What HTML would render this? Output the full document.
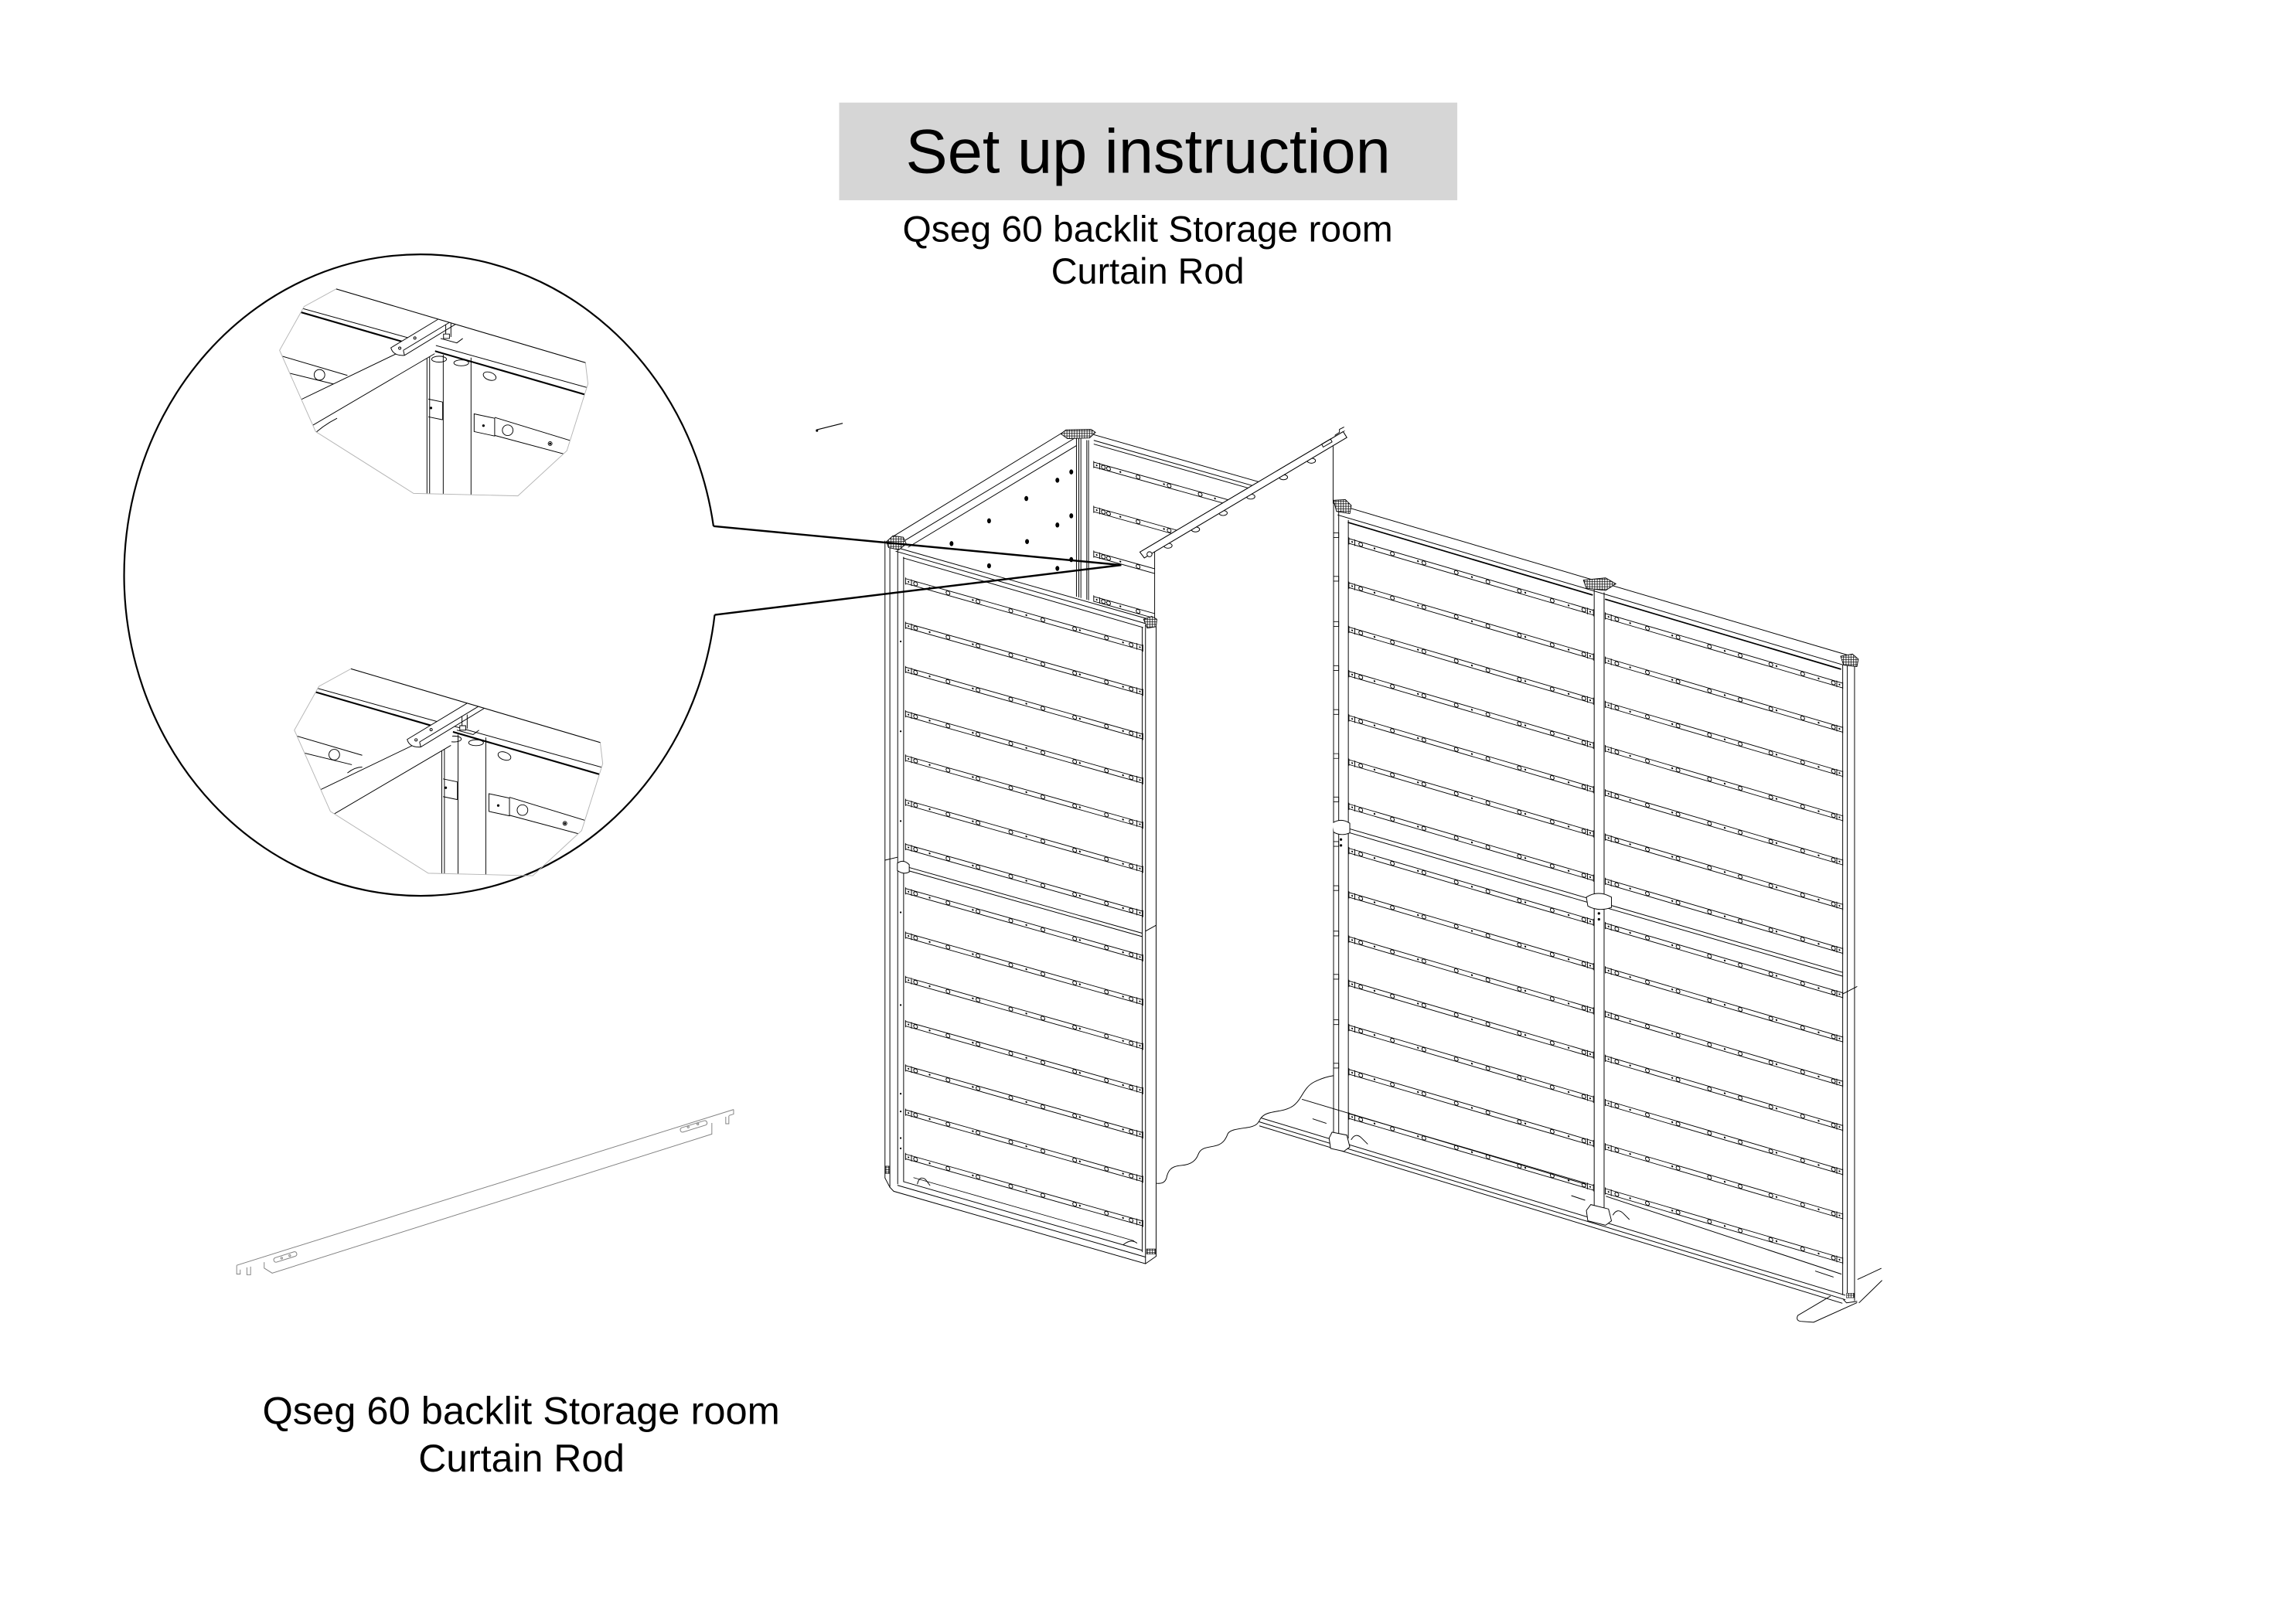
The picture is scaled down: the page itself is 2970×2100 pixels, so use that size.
<!DOCTYPE html>
<html>
<head>
<meta charset="utf-8">
<style>
html,body{margin:0;padding:0;background:#fff;}
svg{display:block;}
text{font-family:"Liberation Sans",Arial,Helvetica,sans-serif;fill:#000;}
</style>
</head>
<body>
<svg width="2970" height="2100" viewBox="0 0 1553 1098.1" preserveAspectRatio="none" xmlns="http://www.w3.org/2000/svg">
<defs>
  <pattern id="hatch" width="1.7" height="1.7" patternUnits="userSpaceOnUse">
    <rect width="1.7" height="1.7" fill="#fff"/>
    <path d="M0,0.85H1.7M0.85,0V1.7" stroke="#000" stroke-width="0.4"/>
  </pattern>

  <!-- front panel slat -->
  <g id="fs">
    <path d="M0,0H160.5M0,3.2H160.5M0,-0.6V3.8M4,-0.4V3.6M156.5,-0.4V3.6M160.5,-0.6V3.8"/>
    <g fill="#fff">
      <circle cx="6.8" cy="1.6" r="1.3"/><circle cx="28.7" cy="1.6" r="1.3"/><circle cx="49" cy="1.6" r="1.3"/>
      <circle cx="71.2" cy="1.6" r="1.3"/><circle cx="92.9" cy="1.6" r="1.3"/><circle cx="114.4" cy="1.6" r="1.3"/>
      <circle cx="135.9" cy="1.6" r="1.3"/><circle cx="152.6" cy="1.6" r="1.3"/>
    </g>
    <g fill="#000" stroke="none">
      <circle cx="2" cy="1.6" r="0.55"/><circle cx="16.3" cy="1.6" r="0.6"/><circle cx="45.5" cy="1.6" r="0.6"/>
      <circle cx="81.7" cy="1.6" r="0.6"/><circle cx="117.9" cy="1.6" r="0.6"/><circle cx="147.1" cy="1.6" r="0.6"/>
      <circle cx="158.5" cy="1.6" r="0.55"/>
    </g>
  </g>
  <!-- right wall left section slat -->
  <g id="ws1">
    <path d="M0,0H165.4M0,3.2H165.4M0,-0.6V3.8M4,-0.4V3.6M161.4,-0.4V3.6M165.4,-0.6V3.8"/>
    <g fill="#fff">
      <circle cx="8" cy="1.6" r="1.3"/><circle cx="29.4" cy="1.6" r="1.3"/><circle cx="50.7" cy="1.6" r="1.3"/>
      <circle cx="72.6" cy="1.6" r="1.3"/><circle cx="94" cy="1.6" r="1.3"/><circle cx="115.3" cy="1.6" r="1.3"/>
      <circle cx="137.5" cy="1.6" r="1.3"/><circle cx="158.9" cy="1.6" r="1.3"/>
    </g>
    <g fill="#000" stroke="none">
      <circle cx="2.2" cy="1.6" r="0.55"/><circle cx="17.3" cy="1.6" r="0.6"/><circle cx="46.7" cy="1.6" r="0.6"/>
      <circle cx="83.2" cy="1.6" r="0.6"/><circle cx="119.3" cy="1.6" r="0.6"/><circle cx="148.6" cy="1.6" r="0.6"/>
      <circle cx="163.2" cy="1.6" r="0.55"/>
    </g>
  </g>
  <!-- right wall right section slat -->
  <g id="ws2">
    <path d="M0,0H160.6M0,3.2H160.6M0,-0.6V3.8M4,-0.4V3.6M156.6,-0.4V3.6M160.6,-0.6V3.8"/>
    <g fill="#fff">
      <circle cx="7.8" cy="1.6" r="1.3"/><circle cx="28.5" cy="1.6" r="1.3"/><circle cx="49.2" cy="1.6" r="1.3"/>
      <circle cx="70.5" cy="1.6" r="1.3"/><circle cx="91.3" cy="1.6" r="1.3"/><circle cx="112" cy="1.6" r="1.3"/>
      <circle cx="133.5" cy="1.6" r="1.3"/><circle cx="154.3" cy="1.6" r="1.3"/>
    </g>
    <g fill="#000" stroke="none">
      <circle cx="2.2" cy="1.6" r="0.55"/><circle cx="16.8" cy="1.6" r="0.6"/><circle cx="45.3" cy="1.6" r="0.6"/>
      <circle cx="80.8" cy="1.6" r="0.6"/><circle cx="115.8" cy="1.6" r="0.6"/><circle cx="144.3" cy="1.6" r="0.6"/>
      <circle cx="158.4" cy="1.6" r="0.55"/>
    </g>
  </g>
  <!-- back wall slat -->
  <g id="bs">
    <path d="M0,0H112M0,3.2H112M0,-0.6V3.8M4,-0.4V3.6"/>
    <g fill="#fff">
      <circle cx="6.5" cy="1.6" r="1.3"/><circle cx="10" cy="1.6" r="1.3"/><circle cx="30" cy="1.6" r="1.3"/>
      <circle cx="51" cy="1.6" r="1.3"/><circle cx="72" cy="1.6" r="1.3"/><circle cx="93" cy="1.6" r="1.3"/>
    </g>
    <g fill="#000" stroke="none">
      <circle cx="2" cy="1.6" r="0.55"/><circle cx="18" cy="1.6" r="0.6"/><circle cx="47.5" cy="1.6" r="0.6"/>
      <circle cx="82" cy="1.6" r="0.6"/>
    </g>
  </g>

  <!-- inset -->
  <clipPath id="cpU">
    <polygon points="227.4,195.5 396,245.4 397.7,259.7 383.4,305 350.3,335.5 279.7,333.8 213.5,292 189.1,237 205.7,207.4"/>
  </clipPath>
  <g id="ib" stroke="#000" stroke-width="0.5" fill="none">
    <path d="M195,206 L400,263"/>
    <path d="M195,208.8 L400,268.2" stroke-width="1.1"/>
    <path d="M185,239.3 L235,254"/>
    <path d="M188,250.6 L228,260.4"/>
    <circle cx="216.1" cy="253.6" r="3.6" fill="#fff"/>
    <path d="M288.8,238V340M290.6,240V340M299.8,240V340M318.6,242V340"/>
    <ellipse cx="297" cy="243" rx="5" ry="2"/>
    <ellipse cx="312" cy="245.5" rx="5" ry="2"/>
    <ellipse cx="331.2" cy="254.5" rx="4.5" ry="2.6" transform="rotate(20 331.2 254.5)"/>
    <path d="M320.7,280 L320.7,292 L334.6,295 L334.6,283 Z"/>
    <path d="M334.6,282.4 L392,300 M334.6,294.6 L392,310"/>
    <circle cx="343.4" cy="291.1" r="3.6" fill="#fff"/>
    <circle cx="372.1" cy="300.1" r="1.3"/>
    <circle cx="372.1" cy="300.1" r="0.5" fill="#000"/>
    <circle cx="327" cy="288" r="0.6" fill="#000"/>
    <path d="M289.7,270 L299.4,272 M289.7,282 L299.4,284 M299.4,272 V284"/>
    <circle cx="291.5" cy="276" r="0.6" fill="#000"/>
    <path d="M203,290 Q210,281 222,276 M206,293 Q214,284 225,279 M210,296 Q218,288 228,283"/>
    <path d="M225,266 Q230,262 235,262"/>
  </g>
  <g id="ir" stroke="#000" stroke-width="0.5">
    <path d="M296,225.9 L175,284.1 L175,309.2 L294,239.3 Z" fill="#fff" stroke="none"/>
    <path d="M296,225.9 L175,284.1 M294,239.3 L175,309.2" fill="none"/>
    <path d="M264.4,235.3 L307.1,209.5 Q313,208.5 315.5,211.2 L316.3,214.4 L273.6,240.4 Q266,241 264.4,235.3 Z" fill="#fff"/>
    <path d="M272.8,237 L315.5,211.2 M272.8,237 L273.6,240.4" fill="none"/>
    <circle cx="270.4" cy="235.6" r="0.8" fill="none"/>
    <circle cx="280.6" cy="228.7" r="0.8" fill="none"/>
    <path d="M301.5,219.6 V229 M305,218.5 V228 M298,229 L309,232 L313,229" fill="none"/>
    <path d="M300,226 h4 v3 h-4 z" fill="#fff"/>
  </g>
  <g id="ip">
    <polygon points="227.4,195.5 396,245.4 397.7,259.7 383.4,305 350.3,335.5 279.7,333.8 213.5,292 189.1,237 205.7,207.4" fill="none" stroke="#b5b5b5" stroke-width="0.5"/>
    <line x1="227.4" y1="195.5" x2="396" y2="245.4" stroke="#000" stroke-width="0.55"/>
  </g>
</defs>

<rect x="0" y="0" width="1553" height="1098.1" fill="#fff"/>

<!-- Title -->
<rect x="567.6" y="69.4" width="418.1" height="66.1" fill="#d6d6d6"/>
<text x="612.6" y="116.9" font-size="42" textLength="328" lengthAdjust="spacingAndGlyphs">Set up instruction</text>
<text x="610.5" y="163.4" font-size="24.5" textLength="331.6" lengthAdjust="spacingAndGlyphs">Qseg 60 backlit Storage room</text>
<text x="711" y="191.9" font-size="24.5" textLength="130.6" lengthAdjust="spacingAndGlyphs">Curtain Rod</text>

<!-- Detail ellipse -->
<path d="M482.6,356 A200.5,217 0 1 0 483.4,416" fill="none" stroke="#000" stroke-width="1.15"/>

<!-- upper inset -->
<g clip-path="url(#cpU)"><use href="#ib"/><use href="#ir"/></g>
<use href="#ip"/>
<!-- lower inset -->
<g transform="translate(10,257)">
  <g clip-path="url(#cpU)"><use href="#ib"/><use href="#ir" transform="translate(1,8)"/></g>
  <use href="#ip"/>
</g>

<!-- small loose item -->
<path d="M552,290.9 L570,286.4" stroke="#000" stroke-width="0.6"/>
<circle cx="552.6" cy="291.4" r="0.8" fill="#000"/>

<!-- MAIN DRAWING -->
<g stroke="#000" stroke-width="0.5" fill="none" stroke-linecap="round">

  <!-- back wall of storage box -->
  <use href="#bs" transform="matrix(1,0.28,0,1,739.8,312.7)"/>
  <use href="#bs" transform="matrix(1,0.28,0,1,739.8,343)"/>
  <use href="#bs" transform="matrix(1,0.28,0,1,739.8,373.3)"/>
  <use href="#bs" transform="matrix(1,0.28,0,1,739.8,403.6)"/>
  <path d="M736,293 L851.4,326 M740,298 L848,328.8 M740,300.5 L844,330.1"/>
  <path d="M728.1,296V407 M729.7,297V407 M731.1,297V407 M735.1,298V408 M736.3,298V408"/>

  <!-- side panel (inner face) -->
  <path d="M604,363 L719,292.5 M609,367.5 L726,297 M613,371 L728.1,301.5"/>
  <g fill="#000" stroke="none">
    <ellipse cx="724.6" cy="319.3" rx="1.3" ry="1.7"/><ellipse cx="715.2" cy="324.9" rx="1.3" ry="1.7"/>
    <ellipse cx="694.2" cy="337.3" rx="1.3" ry="1.7"/><ellipse cx="669" cy="352.4" rx="1.3" ry="1.7"/>
    <ellipse cx="643.6" cy="367.8" rx="1.3" ry="1.7"/><ellipse cx="724.6" cy="349" rx="1.3" ry="1.7"/>
    <ellipse cx="715.2" cy="355.2" rx="1.3" ry="1.7"/><ellipse cx="694.7" cy="366.4" rx="1.3" ry="1.7"/>
    <ellipse cx="669" cy="382.8" rx="1.3" ry="1.7"/><ellipse cx="715.2" cy="384.6" rx="1.3" ry="1.7"/>
    <ellipse cx="724.6" cy="378.6" rx="1.3" ry="1.7"/>
  </g>

  <!-- RIGHT WALL -->
  <use href="#ws1" transform="matrix(1,0.2935,0,1,912.4,364.4)"/>
  <use href="#ws1" transform="matrix(1,0.2935,0,1,912.4,394.33)"/>
  <use href="#ws1" transform="matrix(1,0.2935,0,1,912.4,424.26)"/>
  <use href="#ws1" transform="matrix(1,0.2935,0,1,912.4,454.19)"/>
  <use href="#ws1" transform="matrix(1,0.2935,0,1,912.4,484.12)"/>
  <use href="#ws1" transform="matrix(1,0.2935,0,1,912.4,514.05)"/>
  <use href="#ws1" transform="matrix(1,0.2935,0,1,912.4,543.98)"/>
  <use href="#ws1" transform="matrix(1,0.2935,0,1,912.4,573.91)"/>
  <use href="#ws1" transform="matrix(1,0.2935,0,1,912.4,603.84)"/>
  <use href="#ws1" transform="matrix(1,0.2935,0,1,912.4,633.77)"/>
  <use href="#ws1" transform="matrix(1,0.2935,0,1,912.4,663.7)"/>
  <use href="#ws1" transform="matrix(1,0.2935,0,1,912.4,693.63)"/>
  <use href="#ws1" transform="matrix(1,0.2935,0,1,912.4,723.56)"/>
  <use href="#ws1" transform="matrix(1,0.2935,0,1,912.4,753.49)"/>

  <use href="#ws2" transform="matrix(1,0.2935,0,1,1085.8,415.1)"/>
  <use href="#ws2" transform="matrix(1,0.2935,0,1,1085.8,445.03)"/>
  <use href="#ws2" transform="matrix(1,0.2935,0,1,1085.8,474.96)"/>
  <use href="#ws2" transform="matrix(1,0.2935,0,1,1085.8,504.89)"/>
  <use href="#ws2" transform="matrix(1,0.2935,0,1,1085.8,534.82)"/>
  <use href="#ws2" transform="matrix(1,0.2935,0,1,1085.8,564.75)"/>
  <use href="#ws2" transform="matrix(1,0.2935,0,1,1085.8,594.68)"/>
  <use href="#ws2" transform="matrix(1,0.2935,0,1,1085.8,624.61)"/>
  <use href="#ws2" transform="matrix(1,0.2935,0,1,1085.8,654.54)"/>
  <use href="#ws2" transform="matrix(1,0.2935,0,1,1085.8,684.47)"/>
  <use href="#ws2" transform="matrix(1,0.2935,0,1,1085.8,714.4)"/>
  <use href="#ws2" transform="matrix(1,0.2935,0,1,1085.8,744.33)"/>
  <use href="#ws2" transform="matrix(1,0.2935,0,1,1085.8,774.26)"/>
  <use href="#ws2" transform="matrix(1,0.2935,0,1,1085.8,804.19)"/>

  <!-- top rail -->
  <path d="M902,340.5 L1254.4,444.6 M904.9,348.4 L1246.4,449.8"/>
  <path d="M912,353.5 L1077,402.5 M1086,405.5 L1245,452.7" stroke-width="0.9"/>
  <!-- posts -->
  <path d="M902,340.5V772 M905.5,345V772 M912,352V770"/>
  <path d="M1078.3,399V821 M1085,401V823"/>
  <path d="M1246.4,450V876 M1249.5,449V878 M1254.4,444.6V880"/>
  <path d="M1246.4,672.5 L1256,667.5"/>
  <!-- left post marks -->
  <g stroke-width="0.45">
    <path d="M902,360.5h3.5v3.2h-3.5 M902,390h3.5v3.2h-3.5 M902,420.6h3.5v3.2h-3.5 M902,450.4h3.5v3.2h-3.5 M902,480.1h3.5v3.2h-3.5 M902,509.9h3.5v3.2h-3.5 M902,539.3h3.5v3.2h-3.5 M902,569.4h3.5v3.2h-3.5 M902,599.3h3.5v3.2h-3.5 M902,630h3.5v3.2h-3.5 M902,659.3h3.5v3.2h-3.5 M902,690h3.5v3.2h-3.5 M902,719.4h3.5v3.2h-3.5"/>
  </g>
  <!-- joints -->
  <path d="M912,560.5 L1078.3,609 M912,563.2 L1078.3,611.8 M1085,611.2 L1246.4,657.9 M1085,613.8 L1246.4,660.5"/>
  <path d="M901,557 Q907,553 913,557 L913,563.5 Q907,566 902,563 Z" fill="#fff"/>
  <path d="M1073,607 Q1081,602 1090,607 L1090,614 Q1081,617 1074,613 Z" fill="#fff"/>
  <circle cx="907" cy="568" r="0.6" fill="#000"/><circle cx="907" cy="572" r="0.6" fill="#000"/>
  <circle cx="1081.5" cy="618" r="0.6" fill="#000"/><circle cx="1081.5" cy="622" r="0.6" fill="#000"/>
  <!-- base rail -->
  <path d="M851,755.8 L1248,876.3 M851,758.8 L1248,879.3 M852,761.8 L1246,881.7"/>
  <path d="M880.8,743.8 L1072.9,801.4 M1086.4,809.4 L1245.4,862"/>
  <!-- post bottom brackets -->
  <path d="M899,770 L901,766 L911,768 L913,776 L909,779 L900,777 Z" fill="#fff"/>
  <path d="M1073,819 L1076,815 L1088,818 L1090,826 L1086,829 L1074,826 Z" fill="#fff"/>
  <path d="M914,771 Q917,766 921,770 L925,774 M1091,822 Q1094,817 1098,821 L1102,825"/>
  <path d="M888,757 L897,760 M1063,809 L1072,812 M1228,860 L1240,864"/>
  <!-- foot -->
  <path d="M1238,877 L1216,890 Q1214.5,893.5 1218,894 L1226.7,894.6 L1256,881.4"/>
  <path d="M1256.6,865.6 L1272.4,858.2 M1257.5,881.4 L1272.9,866.4"/>
  <path d="M1247,879.4 L1249,881.5 L1256,880.5 M1249,878 L1254.4,876"/>
  <rect x="1249" y="875" width="5" height="3" fill="url(#hatch)" stroke-width="0.3"/>

  <!-- CURTAIN -->
  <path d="M782,800.6 C786,801 788,800 789,797 C790,792 792,789 799,788.5 C806,788 809,785 810.5,781 C812,777 815,776.5 821,775.5 C827,774.5 829,771 830.5,767 C832,764.5 836,764 843,763 C850,762 851,760 852.5,757 C855,753 860,752.5 866,751.5 C874,750 877,747 880,742 C883,737 885,734 889,732 C893,730 897,728.5 901.7,727.8 L901.7,302 L781,373.4 Z" fill="#fff" stroke="none"/>
  <path d="M782,800.6 C786,801 788,800 789,797 C790,792 792,789 799,788.5 C806,788 809,785 810.5,781 C812,777 815,776.5 821,775.5 C827,774.5 829,771 830.5,767 C832,764.5 836,764 843,763 C850,762 851,760 852.5,757 C855,753 860,752.5 866,751.5 C874,750 877,747 880,742 C883,737 885,734 889,732 C893,730 897,728.5 901.7,727.8"/>
  <path d="M781,373.4 V800.6 M901.7,302 V340.5"/>

  <!-- ROD -->
  <g fill="#fff">
    <ellipse cx="790" cy="369.2" rx="2.8" ry="1.7"/>
    <ellipse cx="808.6" cy="358.2" rx="2.8" ry="1.7"/>
    <ellipse cx="827.3" cy="347.1" rx="2.8" ry="1.7"/>
    <ellipse cx="846" cy="336" rx="2.8" ry="1.7"/>
    <ellipse cx="868.1" cy="322.9" rx="2.8" ry="1.7"/>
    <ellipse cx="887" cy="311.7" rx="2.8" ry="1.7"/>
  </g>
  <path d="M771,373.5 L908.5,292 L911,296 L774,377.5 Z" fill="#fff" stroke-width="0.55"/>
  <path d="M772.5,372.6 L909.5,291.5" stroke-width="0.35"/>
  <circle cx="777.5" cy="375" r="1.7" fill="#fff"/>
  <path d="M894,300.5 L900,297 L901,299 L895,302.5 Z M903,294.5 L906,292.5 V290.5 L909,289"/>

  <!-- FRONT PANEL -->
  <path d="M598.6,366 L604.5,367.5 L782,419.5 L782,850 L774.8,855 L604.5,806 L598.6,797 Z" fill="#fff" stroke="none"/>
  <use href="#fs" transform="matrix(1,0.2826,0,1,612.5,391.5)"/>
  <use href="#fs" transform="matrix(1,0.2826,0,1,612.5,421.45)"/>
  <use href="#fs" transform="matrix(1,0.2826,0,1,612.5,451.4)"/>
  <use href="#fs" transform="matrix(1,0.2826,0,1,612.5,481.35)"/>
  <use href="#fs" transform="matrix(1,0.2826,0,1,612.5,511.3)"/>
  <use href="#fs" transform="matrix(1,0.2826,0,1,612.5,541.25)"/>
  <use href="#fs" transform="matrix(1,0.2826,0,1,612.5,571.2)"/>
  <use href="#fs" transform="matrix(1,0.2826,0,1,612.5,601.15)"/>
  <use href="#fs" transform="matrix(1,0.2826,0,1,612.5,631.1)"/>
  <use href="#fs" transform="matrix(1,0.2826,0,1,612.5,661.05)"/>
  <use href="#fs" transform="matrix(1,0.2826,0,1,612.5,691)"/>
  <use href="#fs" transform="matrix(1,0.2826,0,1,612.5,720.95)"/>
  <use href="#fs" transform="matrix(1,0.2826,0,1,612.5,750.9)"/>
  <use href="#fs" transform="matrix(1,0.2826,0,1,612.5,780.85)"/>
  <!-- top rail -->
  <path d="M603,369.5 L779,419.5 M606,373 L777,422.5 M611,377.5 L773,424.5"/>
  <!-- posts -->
  <path d="M598.6,366V797 M601.9,369V803.3 M607.2,372V801 M611.2,377V799.5"/>
  <path d="M772.6,424.5V847 M774.8,423V855 M782,419.5V850"/>
  <!-- bottom rail -->
  <path d="M598.6,797 L601.9,803.3 L604.5,806 L774.8,855 L782,850"/>
  <path d="M607.2,802 L774.8,850.5 M611.2,799.5 L772.6,846"/>
  <path d="M618,796.8 L767,839.5" stroke-width="0.4"/>
  <path d="M620.5,801 Q622,795 626,798 L629,802 M760,842 Q765,838 769,841"/>
  <!-- middle joint -->
  <path d="M611.2,585.9 L772.6,631.4 M611.2,588.2 L772.6,633.7"/>
  <path d="M607,584 Q611,581 615,585 L615,590 Q611,592 607,589 Z" fill="#fff"/>
  <path d="M774.8,630 L782,626 M598.6,582 L607,580"/>
  <g fill="#000" stroke="none">
    <circle cx="609.2" cy="434" r="0.6"/><circle cx="609.2" cy="494.8" r="0.6"/><circle cx="609.2" cy="555.5" r="0.6"/>
    <circle cx="609.2" cy="617.3" r="0.6"/><circle cx="609.2" cy="680" r="0.6"/><circle cx="609.2" cy="740" r="0.6"/>
    <circle cx="609.2" cy="752" r="0.6"/><circle cx="609.2" cy="770" r="0.6"/><circle cx="609.2" cy="777" r="0.6"/>
  </g>
  <rect x="775.5" y="845" width="6" height="3.5" fill="url(#hatch)" stroke-width="0.3"/>
  <rect x="598.8" y="789" width="2.8" height="5" fill="url(#hatch)" stroke-width="0.3"/>

  <!-- corner caps -->
  <path d="M599.5,366.5 L604,362.5 L611,363.5 L613,368 L608,372 L601,370.5 Z" fill="url(#hatch)" stroke-width="0.45"/>
  <path d="M717.5,293.5 L721,290.8 L738,290.5 L741,292.5 L737,296.3 L722,296.8 Z" fill="url(#hatch)" stroke-width="0.45"/>
  <path d="M773.5,419 L779,417 L782.5,419 L782,424 L776,425 Z" fill="url(#hatch)" stroke-width="0.45"/>
  <path d="M902,338.5 L910,338 L914,342 L913,347.5 L904,346 Z" fill="url(#hatch)" stroke-width="0.45"/>
  <path d="M1071,392.5 L1086,391 L1093,395 L1086,399.5 L1073,398 Z" fill="url(#hatch)" stroke-width="0.45"/>
  <path d="M1245,444 L1253,442.5 L1257,446 L1256,451 L1247,450 Z" fill="url(#hatch)" stroke-width="0.45"/>
</g>

<!-- Leader lines -->
<path d="M482.6,356 L758.4,382.3 L483.4,416" fill="none" stroke="#000" stroke-width="1.3" stroke-linejoin="miter"/>

<!-- Separate curtain rod part -->
<g stroke="#808080" stroke-width="0.5" fill="none" transform="translate(0,-4)">
  <path d="M160.1,860.1 L496.2,754.7"/>
  <path d="M160.1,860.1 V866 H162.5 V863"/>
  <path d="M167,861.5 V866.5 H169.5 V861"/>
  <path d="M178.7,858 V862 L184.1,865.4 L481.5,771.3 V763.8"/>
  <path d="M490.9,759.6 V764.3 H493 V759"/>
  <path d="M496.2,754.7 V757.8 L493,758.8"/>
  <path d="M186,855 L199,850.9 A1.6,1.6 0 0 1 199.9,853.9 L186.9,858 A1.6,1.6 0 0 1 186,855 Z"/>
  <path d="M461,767 L476.5,762.2 A1.6,1.6 0 0 1 477.4,765.2 L461.9,770 A1.6,1.6 0 0 1 461,767 Z"/>
  <circle cx="190.5" cy="855.2" r="0.6"/><circle cx="196" cy="853.5" r="0.6"/>
  <circle cx="465.5" cy="766.5" r="0.6"/><circle cx="472" cy="764.5" r="0.6"/>
</g>

<text x="177.5" y="963.5" font-size="26.2" textLength="350" lengthAdjust="spacingAndGlyphs">Qseg 60 backlit Storage room</text>
<text x="283" y="995.5" font-size="26.2" textLength="139.5" lengthAdjust="spacingAndGlyphs">Curtain Rod</text>
</svg>
</body>
</html>
